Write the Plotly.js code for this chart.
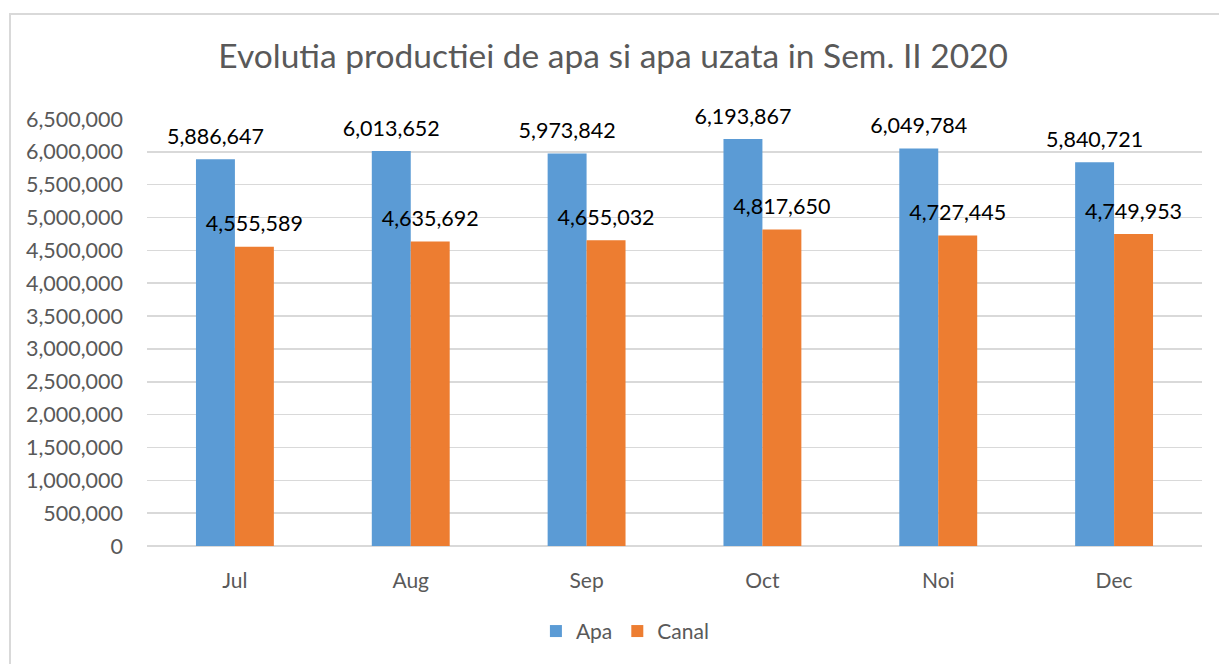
<!DOCTYPE html>
<html>
<head>
<meta charset="utf-8">
<script src="https://cdn.plot.ly/plotly-3.0.1.min.js"></script>
<style>
  html, body { margin: 0; padding: 0; background: #fff; overflow: hidden; }
  #chart { width: 1219px; height: 664px; }
  #frame { position: absolute; left: 9px; top: 13px; width: 1400px; height: 800px;
           border-left: 2px solid #d9d9d9; border-top: 2px solid #d9d9d9; pointer-events: none; }
</style>
</head>
<body>
<div id="chart"></div>
<div id="frame"></div>
<script>
const months = ["Jul", "Aug", "Sep", "Oct", "Noi", "Dec"];
const apa = [5886647, 6013652, 5973842, 6193867, 6049784, 5840721];
const canal = [4555589, 4635692, 4655032, 4817650, 4727445, 4749953];
const titleText = "Evolutia productiei de apa si apa uzata in Sem. II 2020";

const FONT = "Lato, 'Open Sans', sans-serif";
const labelTpl = '<span style="font-size:21.5px">%{y:,}</span><br> ';

const traces = [
  {
    type: "bar", name: "Apa", x: months, y: apa,
    marker: { color: "#5B9BD5" },
    texttemplate: labelTpl, textposition: "outside", constraintext: "none",
    cliponaxis: false,
    textfont: { family: FONT, size: 8, color: "#000000" },
    hoverinfo: "x+y"
  },
  {
    type: "bar", name: "Canal", x: months, y: canal,
    marker: { color: "#ED7D31" },
    texttemplate: labelTpl, textposition: "outside", constraintext: "none",
    cliponaxis: false,
    textfont: { family: FONT, size: 8, color: "#000000" },
    hoverinfo: "x+y"
  }
];

const layout = {
  width: 1219, height: 664,
  paper_bgcolor: "#ffffff", plot_bgcolor: "#ffffff",
  margin: { l: 147, r: 17, t: 119, b: 114 },
  title: {
    text: titleText,
    font: { family: FONT, size: 33.5, color: "#595959" },
    x: 0.503, xanchor: "center", y: 0.915, yanchor: "middle"
  },
  barmode: "group", bargap: 0.557, bargroupgap: 0,
  font: { family: FONT, size: 21, color: "#595959" },
  xaxis: {
    type: "category", showgrid: false, zeroline: false, showline: false,
    ticks: "", ticklabelstandoff: 20,
    tickfont: { family: FONT, size: 21, color: "#595959" }
  },
  yaxis: {
    range: [0, 6500000], dtick: 500000, tick0: 0, tickformat: ",",
    showgrid: true, gridcolor: "#d9d9d9", gridwidth: 1.5,
    zeroline: true, zerolinecolor: "#d9d9d9", zerolinewidth: 1.5,
    showline: false, ticks: "", ticklabelstandoff: 23,
    tickfont: { family: FONT, size: 21.5, color: "#595959" }
  },
  showlegend: true,
  legend: {
    orientation: "h", x: 0.453, xanchor: "center", y: -0.2, yanchor: "middle",
    font: { family: FONT, size: 21, color: "#595959" },
    itemwidth: 30, tracegroupgap: 0
  }
};

Plotly.newPlot("chart", traces, layout, { displayModeBar: false, staticPlot: true });
</script>
</body>
</html>
